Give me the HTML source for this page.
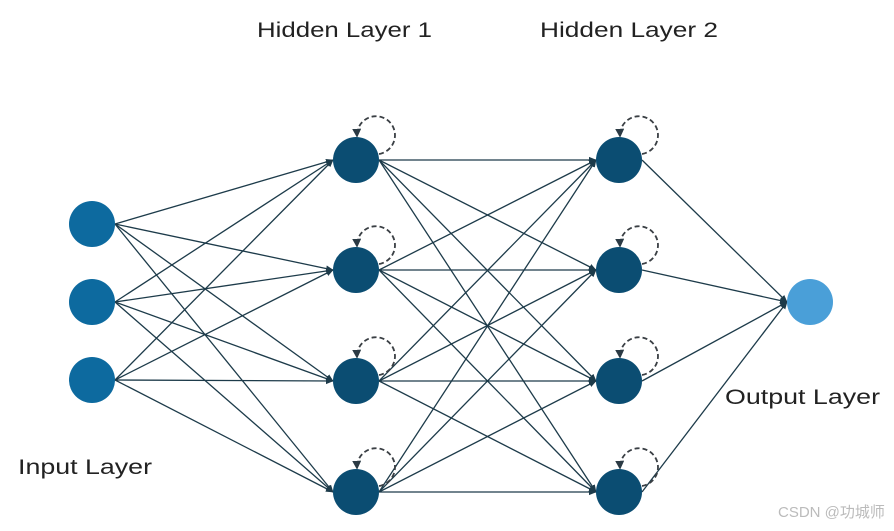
<!DOCTYPE html>
<html><head><meta charset="utf-8"><style>html,body{margin:0;padding:0;background:#fff}</style></head><body>
<svg width="894" height="526" xmlns="http://www.w3.org/2000/svg">
<defs>
<marker id="a" viewBox="0 0 10 10" refX="9" refY="5" markerWidth="6" markerHeight="6" orient="auto"><path d="M0,1 L10,5 L0,9 z" fill="#1d3b4a"/></marker>
<marker id="b" viewBox="0 0 10 10" refX="8" refY="5" markerWidth="5" markerHeight="5" orient="auto"><path d="M0,0 L10,5 L0,10 z" fill="#2b3a44"/></marker>
</defs>
<g stroke="#1d3b4a" stroke-width="1.3" marker-end="url(#a)">
<line x1="115" y1="224" x2="333" y2="160"/><line x1="115" y1="224" x2="333" y2="270"/><line x1="115" y1="224" x2="333" y2="381"/><line x1="115" y1="224" x2="333" y2="492"/>
<line x1="115" y1="302" x2="333" y2="160"/><line x1="115" y1="302" x2="333" y2="270"/><line x1="115" y1="302" x2="333" y2="381"/><line x1="115" y1="302" x2="333" y2="492"/>
<line x1="115" y1="380" x2="333" y2="160"/><line x1="115" y1="380" x2="333" y2="270"/><line x1="115" y1="380" x2="333" y2="381"/><line x1="115" y1="380" x2="333" y2="492"/>
<line x1="379" y1="160" x2="596" y2="160"/><line x1="379" y1="160" x2="596" y2="270"/><line x1="379" y1="160" x2="596" y2="381"/><line x1="379" y1="160" x2="596" y2="492"/>
<line x1="379" y1="270" x2="596" y2="160"/><line x1="379" y1="270" x2="596" y2="270"/><line x1="379" y1="270" x2="596" y2="381"/><line x1="379" y1="270" x2="596" y2="492"/>
<line x1="379" y1="381" x2="596" y2="160"/><line x1="379" y1="381" x2="596" y2="270"/><line x1="379" y1="381" x2="596" y2="381"/><line x1="379" y1="381" x2="596" y2="492"/>
<line x1="379" y1="492" x2="596" y2="160"/><line x1="379" y1="492" x2="596" y2="270"/><line x1="379" y1="492" x2="596" y2="381"/><line x1="379" y1="492" x2="596" y2="492"/>
<line x1="642" y1="160" x2="787" y2="302"/><line x1="642" y1="270" x2="787" y2="302"/><line x1="642" y1="381" x2="787" y2="302"/><line x1="642" y1="492" x2="787" y2="302"/>
</g>
<g fill="none" stroke="#3a3f44" stroke-width="1.8" stroke-dasharray="5,3" marker-end="url(#b)">
<path d="M379 154 A19 19 0 1 0 357 136"/><path d="M379 264 A19 19 0 1 0 357 246"/><path d="M379 375 A19 19 0 1 0 357 357"/><path d="M379 486 A19 19 0 1 0 357 468"/>
<path d="M642 154 A19 19 0 1 0 620 136"/><path d="M642 264 A19 19 0 1 0 620 246"/><path d="M642 375 A19 19 0 1 0 620 357"/><path d="M642 486 A19 19 0 1 0 620 468"/>
</g>
<g fill="#0d6a9f"><circle cx="92" cy="224" r="23"/><circle cx="92" cy="302" r="23"/><circle cx="92" cy="380" r="23"/></g>
<g fill="#0b4d72"><circle cx="356" cy="160" r="23"/><circle cx="356" cy="270" r="23"/><circle cx="356" cy="381" r="23"/><circle cx="356" cy="492" r="23"/>
<circle cx="619" cy="160" r="23"/><circle cx="619" cy="270" r="23"/><circle cx="619" cy="381" r="23"/><circle cx="619" cy="492" r="23"/></g>
<circle cx="810" cy="302" r="23" fill="#4a9fd8"/>
<g font-family="Liberation Sans, sans-serif" font-size="21" fill="#222">
<text x="257" y="37" textLength="175" lengthAdjust="spacingAndGlyphs">Hidden Layer 1</text>
<text x="540" y="37" textLength="178" lengthAdjust="spacingAndGlyphs">Hidden Layer 2</text>
<text x="18" y="474" textLength="134" lengthAdjust="spacingAndGlyphs">Input Layer</text>
<text x="725" y="404" textLength="155" lengthAdjust="spacingAndGlyphs">Output Layer</text>
</g>
<text x="778" y="517" font-family="Liberation Sans, Noto Sans CJK SC, sans-serif" font-size="15" fill="#bbb">CSDN @功城师</text>
</svg>
</body></html>
